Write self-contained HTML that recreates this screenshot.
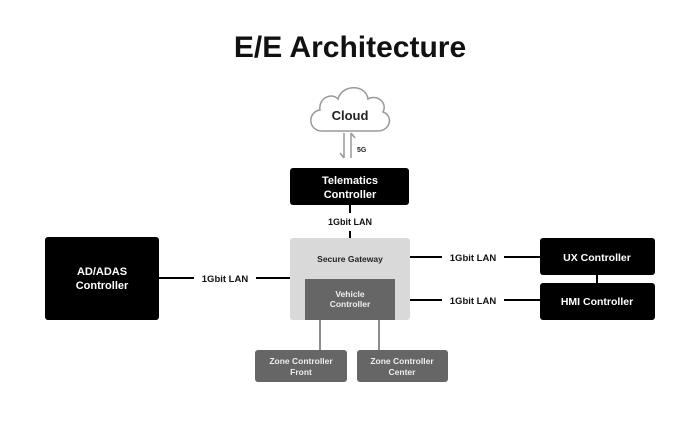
<!DOCTYPE html>
<html><head><meta charset="utf-8"><style>
html,body{margin:0;padding:0;background:#fff;}
svg{display:block;font-family:"Liberation Sans",sans-serif;font-weight:bold;}
</style></head><body>
<svg width="700" height="437" viewBox="0 0 700 437" xmlns="http://www.w3.org/2000/svg">
<rect width="700" height="437" fill="#fff"/>
<text x="350" y="57" font-size="30" text-anchor="middle" fill="#111">E/E Architecture</text>
<!-- cloud -->
<path d="M322,131 C308,131 307,112 320,110 C318,98 332,92 338,99 C342,84 366,84 368,99 C376,94 388,102 383,112 C394,116 390,131 378,131 Z" fill="#fff" stroke="#999" stroke-width="1.5"/>
<text x="350" y="120" font-size="13" text-anchor="middle" fill="#222">Cloud</text>
<path d="M344,133 V158 M340,153 L344,158" stroke="#999" stroke-width="1.5" fill="none"/>
<path d="M351,158 V133 M351,133 L355,138" stroke="#999" stroke-width="1.5" fill="none"/>
<text x="357" y="152" font-size="7" fill="#222">5G</text>
<!-- telematics -->
<rect x="290" y="168" width="119" height="37" rx="3" fill="#000"/>
<text x="350" y="184" font-size="11" text-anchor="middle" fill="#fff">Telematics</text>
<text x="350" y="198" font-size="11" text-anchor="middle" fill="#fff">Controller</text>
<path d="M350,205 V213 M350,231 V238" stroke="#000" stroke-width="2"/>
<text x="350" y="225" font-size="9" text-anchor="middle" fill="#111">1Gbit LAN</text>
<!-- gateway -->
<rect x="290" y="238" width="120" height="82" rx="3" fill="#d9d9d9"/>
<text x="350" y="262" font-size="8.5" text-anchor="middle" fill="#222">Secure Gateway</text>
<rect x="305" y="279" width="90" height="41" fill="#666"/>
<text x="350" y="297" font-size="8.5" text-anchor="middle" fill="#eee">Vehicle</text>
<text x="350" y="307" font-size="8.5" text-anchor="middle" fill="#eee">Controller</text>
<path d="M320,320 V350 M379,320 V350" stroke="#666" stroke-width="1.5"/>
<rect x="255" y="350" width="92" height="32" rx="3" fill="#666"/>
<text x="301" y="364" font-size="8.5" text-anchor="middle" fill="#eee">Zone Controller</text>
<text x="301" y="375" font-size="8.5" text-anchor="middle" fill="#eee">Front</text>
<rect x="357" y="350" width="91" height="32" rx="3" fill="#666"/>
<text x="402" y="364" font-size="8.5" text-anchor="middle" fill="#eee">Zone Controller</text>
<text x="402" y="375" font-size="8.5" text-anchor="middle" fill="#eee">Center</text>
<!-- AD/ADAS -->
<rect x="45" y="237" width="114" height="83" rx="3" fill="#000"/>
<text x="102" y="275" font-size="11" text-anchor="middle" fill="#fff">AD/ADAS</text>
<text x="102" y="289" font-size="11" text-anchor="middle" fill="#fff">Controller</text>
<path d="M159,278 H194 M256,278 H290" stroke="#000" stroke-width="2"/>
<text x="225" y="282" font-size="9.5" text-anchor="middle" fill="#111">1Gbit LAN</text>
<!-- right -->
<path d="M410,257 H442 M504,257 H540 M410,300 H442 M504,300 H540 M597,275 V283" stroke="#000" stroke-width="2"/>
<text x="473" y="261" font-size="9.5" text-anchor="middle" fill="#111">1Gbit LAN</text>
<text x="473" y="304" font-size="9.5" text-anchor="middle" fill="#111">1Gbit LAN</text>
<rect x="540" y="238" width="115" height="37" rx="3" fill="#000"/>
<text x="597" y="261" font-size="10.5" text-anchor="middle" fill="#fff">UX Controller</text>
<rect x="540" y="283" width="115" height="37" rx="3" fill="#000"/>
<text x="597" y="305" font-size="10.5" text-anchor="middle" fill="#fff">HMI Controller</text>
</svg>
</body></html>
